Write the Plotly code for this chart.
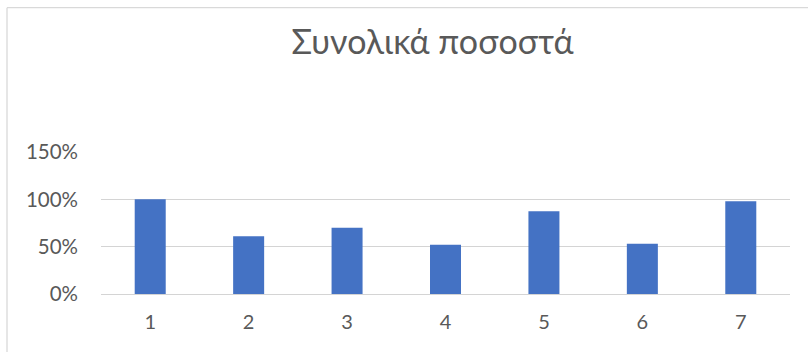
import plotly.graph_objects as go

categories = ["1", "2", "3", "4", "5", "6", "7"]
values = [1.00, 0.61, 0.70, 0.52, 0.875, 0.53, 0.98]
y_ticks = [0, 0.5, 1.0, 1.5]
y_tick_labels = ["0%", "50%", "100%", "150%"]
title_text = "Συνολικά ποσοστά"

W, H = 808, 352
L, R, T, B = 101, 790, 151.5, 293.7

fig = go.Figure(go.Bar(x=categories, y=values, marker=dict(color="#4472C4", line=dict(width=0)), hoverinfo="skip"))

FONT = "Lato, 'Noto Sans', sans-serif"
fig.update_layout(
    width=W, height=H,
    margin=dict(l=L, r=W - R, t=T, b=H - B, pad=0),
    paper_bgcolor="white", plot_bgcolor="white",
    bargap=0.685,
    showlegend=False,
    font=dict(family=FONT, color="#595959", size=20),
    title=dict(text=title_text, x=432.5 / W, xanchor="center", xref="container",
               y=1 - 42 / H, yanchor="middle", yref="container",
               font=dict(family=FONT, size=34, color="#595959", weight=400)),
    xaxis=dict(type="category", showgrid=False, showline=False, zeroline=False, ticks="",
               ticklabelstandoff=14, tickfont=dict(size=20)),
    yaxis=dict(range=[0, 1.5], tickvals=y_ticks, ticktext=y_tick_labels, showgrid=True,
               gridcolor="#d4d4d4", gridwidth=1.4, zeroline=True, zerolinecolor="#d4d4d4", zerolinewidth=1.4,
               showline=False, ticks="", ticklabelstandoff=22, tickfont=dict(size=20.5)),
)

# chart area border (left and top edges visible)
pw, ph = R - L, B - T
x_left = (7 - L) / pw
y_top = (B - 7) / ph
fig.add_shape(type="line", xref="paper", yref="paper", x0=x_left, x1=(W + 10 - L) / pw, y0=y_top, y1=y_top,
              line=dict(color="#d9d9d9", width=1.3))
fig.add_shape(type="line", xref="paper", yref="paper", x0=x_left, x1=x_left, y0=y_top, y1=(B - H - 10) / ph,
              line=dict(color="#d9d9d9", width=1.3))

fig.write_html("out.html")
